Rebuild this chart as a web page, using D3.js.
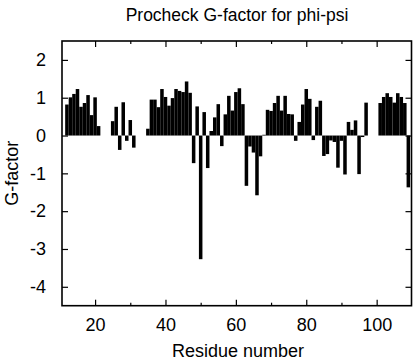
<!DOCTYPE html>
<html>
<head>
<meta charset="utf-8">
<script src="https://cdn.jsdelivr.net/npm/d3@7"></script>
<style>
  html, body { margin: 0; padding: 0; background: #fff; }
  svg { display: block; }
  text { font-family: "Liberation Sans", Arial, Helvetica, sans-serif; fill: #000; }
</style>
</head>
<body>
<svg id="chart" width="416" height="360"></svg>
<script>
// Residue numbers and G-factor values
const residues = [
  12,13,14,15,16,17,18,19,20,21,
  25,26,27,28,29,30,31,
  35,36,37,38,39,40,41,42,43,44,45,46,47,48,49,50,51,52,53,54,55,56,57,58,59,60,
  61,62,63,64,65,66,67,68,69,70,71,72,73,74,75,76,77,78,79,80,
  81,82,83,84,85,86,87,88,89,90,91,92,93,94,95,96,97,
  101,102,103,104,105,106,107,108,109
];
const gFactor = [
  0.82,1.01,1.10,1.23,0.76,0.86,1.07,0.54,1.01,0.25,
  0.38,0.76,-0.38,0.88,-0.14,0.41,-0.32,
  0.18,0.95,0.95,0.75,1.23,1.02,0.79,0.99,1.23,1.18,1.15,1.43,1.13,-0.73,0.77,-3.27,0.62,-0.86,0.12,0.48,0.83,-0.28,0.56,1.05,0.66,1.15,
  1.25,0.83,-1.33,-0.29,-0.45,-1.58,-0.55,0.02,0.68,0.65,0.86,1.05,0.66,1.05,0.57,0.56,-0.14,0.36,0.82,1.23,
  0.97,-0.12,0.76,0.92,-0.54,-0.49,-0.13,-0.17,-0.85,-0.14,-1.03,0.36,0.15,0.40,-1.02,-0.04,0.87,
  0.86,1.02,1.12,1.02,0.87,1.12,1.02,0.86,-1.37
];
const xMajorTicks = [20, 40, 60, 80, 100];
const xMinorTicks = [30, 50, 70, 90];
const yTicks = [-4, -3, -2, -1, 0, 1, 2];
const titleText = "Procheck G-factor for phi-psi";
const xLabelText = "Residue number";
const yLabelText = "G-factor";

const data = residues.map((r, i) => ({ r, v: gFactor[i] }));

const svg = d3.select("#chart");
const mLeft = 62, mRight = 411.5, mTop = 41, mBottom = 305.7;

const x = d3.scaleLinear().domain([10.6, 109.9]).range([mLeft, mRight]);
const y = d3.scaleLinear().domain([-4.5, 2.5]).range([mBottom, mTop]);

// bars
svg.append("g").selectAll("rect").data(data).join("rect")
  .attr("x", d => x(d.r - 0.5))
  .attr("width", d => x(d.r + 0.5) - x(d.r - 0.5))
  .attr("y", d => y(Math.max(0, d.v)))
  .attr("height", d => Math.abs(y(d.v) - y(0)))
  .attr("fill", "#000");

// axes (ticks inward)
const fontSize = 18;
const gB = svg.append("g").attr("transform", `translate(0,${mBottom})`)
  .call(d3.axisBottom(x).tickValues(xMajorTicks).tickSize(-6).tickPadding(13).tickFormat(d3.format("d")));
const gB2 = svg.append("g").attr("transform", `translate(0,${mBottom})`)
  .call(d3.axisBottom(x).tickValues(xMinorTicks).tickSize(-3).tickFormat(""));
const gT = svg.append("g").attr("transform", `translate(0,${mTop})`)
  .call(d3.axisTop(x).tickValues(xMajorTicks).tickSize(-6).tickFormat(""));
const gT2 = svg.append("g").attr("transform", `translate(0,${mTop})`)
  .call(d3.axisTop(x).tickValues(xMinorTicks).tickSize(-3).tickFormat(""));
const gL = svg.append("g").attr("transform", `translate(${mLeft},0)`)
  .call(d3.axisLeft(y).tickValues(yTicks).tickSize(-6).tickPadding(16).tickFormat(d3.format("d")));
const gR = svg.append("g").attr("transform", `translate(${mRight},0)`)
  .call(d3.axisRight(y).tickValues(yTicks).tickSize(-6).tickFormat(""));

[gB, gB2, gT, gT2, gL, gR].forEach(g => {
  g.select(".domain").remove();
  g.selectAll(".tick line").attr("stroke", "#000").attr("stroke-width", 1.2);
  g.selectAll(".tick text").attr("font-size", fontSize).attr("font-family", "Liberation Sans, Arial, sans-serif").attr("fill", "#000");
});
gL.selectAll(".tick text").text(d => d < 0 ? "-" + Math.abs(d) : d);

// frame
svg.append("rect")
  .attr("x", mLeft).attr("y", mTop)
  .attr("width", mRight - mLeft).attr("height", mBottom - mTop)
  .attr("fill", "none").attr("stroke", "#000").attr("stroke-width", 1.6);

// title & labels
svg.append("text").attr("x", 237).attr("y", 21)
  .attr("text-anchor", "middle").attr("font-size", 17.5).text(titleText);
svg.append("text").attr("x", 238).attr("y", 357)
  .attr("text-anchor", "middle").attr("font-size", fontSize).text(xLabelText);
svg.append("text").attr("transform", `translate(18,${(mTop + mBottom) / 2}) rotate(-90)`)
  .attr("text-anchor", "middle").attr("font-size", fontSize).text(yLabelText);
</script>
</body>
</html>
